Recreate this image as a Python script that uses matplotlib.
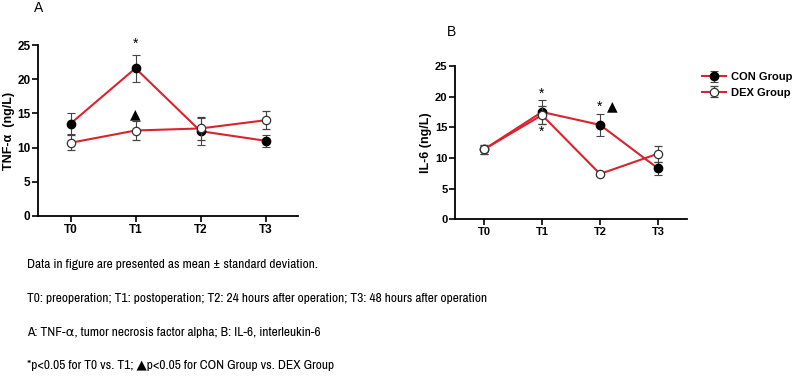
import matplotlib
matplotlib.use("Agg")
import matplotlib.pyplot as plt
from matplotlib import font_manager

# data
times = ["T0", "T1", "T2", "T3"]

tnf_con = [13.5, 21.6, 12.4, 11.0]
tnf_con_sd = [1.5, 2.0, 2.0, 0.9]
tnf_dex = [10.7, 12.5, 12.8, 14.0]
tnf_dex_sd = [1.1, 1.4, 1.7, 1.3]

il6_con = [11.4, 17.5, 15.4, 8.3]
il6_con_sd = [0.7, 1.9, 1.8, 1.0]
il6_dex = [11.4, 17.0, 7.4, 10.7]
il6_dex_sd = [0.7, 1.5, 0.3, 1.3]

notes = [
    "Data in figure are presented as mean \u00b1 standard deviation.",
    "T0: preoperation; T1: postoperation; T2: 24 hours after operation; T3: 48 hours after operation",
    "A: TNF-\u03b1, tumor necrosis factor alpha; B: IL-6, interleukin-6",
    "*p<0.05 for T0 vs. T1; \u25b2p<0.05 for CON Group vs. DEX Group",
]

RED = "#d9232e"

# look for a narrow sans face for the notes, the reference uses one
narrow = None
for f in font_manager.fontManager.ttflist:
    if "Narrow" in f.name or "Condensed" in f.name:
        narrow = f.name
        break
NOTE_FAMILY = [narrow, "DejaVu Sans"] if narrow else ["Liberation Sans", "DejaVu Sans"]

plt.rcParams["font.family"] = ["Liberation Sans", "DejaVu Sans"]

fig = plt.figure(figsize=(7.94, 3.91), dpi=100)
ax_a = fig.add_axes([38 / 794, 1 - 216 / 391, 260 / 794, 171 / 391])
ax_b = fig.add_axes([455 / 794, 1 - 219.3 / 391, 232 / 794, 153.3 / 391])


def draw(ax, con, con_sd, dex, dex_sd, size):
    x = list(range(len(times)))
    ax.errorbar(x, con, yerr=con_sd, color=RED, lw=1.5, ecolor="#444444",
                elinewidth=0.8, capsize=3, capthick=0.8, marker="o", ms=6,
                mfc="black", mec="black", zorder=3, label="CON Group")
    ax.errorbar(x, dex, yerr=dex_sd, color=RED, lw=1.5, ecolor="#444444",
                elinewidth=0.8, capsize=3, capthick=0.8, marker="o", ms=6,
                mfc="white", mec="#333333", mew=0.9, zorder=4, label="DEX Group")
    ax.set_xlim(-0.5, 3.5)
    ax.set_ylim(0, 25)
    ax.set_xticks(x)
    ax.set_xticklabels(times)
    ax.set_yticks([0, 5, 10, 15, 20, 25])
    for s in ["top", "right"]:
        ax.spines[s].set_visible(False)
    for s in ["left", "bottom"]:
        ax.spines[s].set_linewidth(1.3)
    ax.tick_params(direction="out", length=4, width=1.2, labelsize=size, pad=1.5)
    for lab in ax.get_xticklabels() + ax.get_yticklabels():
        lab.set_fontweight("bold")


draw(ax_a, tnf_con, tnf_con_sd, tnf_dex, tnf_dex_sd, 8.5)
draw(ax_b, il6_con, il6_con_sd, il6_dex, il6_dex_sd, 8)

ax_a.set_ylabel("TNF-\u03b1  (ng/L)", fontsize=9, fontweight="bold")
ax_a.yaxis.set_label_coords(-0.09, 0.5)
ax_b.set_ylabel("IL-6 (ng/L)", fontsize=9, fontweight="bold")
ax_b.yaxis.set_label_coords(-0.1, 0.5)

# significance marks
ax_a.text(1, 25.2, "*", ha="center", va="center", fontsize=10, clip_on=False)
ax_a.text(1, 14.8, "\u25b2", ha="center", va="center", fontsize=10,
          family=["DejaVu Sans"])
ax_b.text(1, 20.4, "*", ha="center", va="center", fontsize=10)
ax_b.text(1, 14.2, "*", ha="center", va="center", fontsize=10)
ax_b.text(2, 18.3, "*", ha="center", va="center", fontsize=10)
ax_b.text(2.22, 18.5, "\u25b2", ha="center", va="center", fontsize=10,
          family=["DejaVu Sans"])

fig.text(39 / 794, 1 - 8 / 391, "A", ha="center", va="center", fontsize=10)
fig.text(451 / 794, 1 - 32 / 391, "B", ha="center", va="center", fontsize=10)

handles, labels = ax_b.get_legend_handles_labels()
fig.legend(handles, labels, loc="upper left", bbox_to_anchor=(692 / 794, 1 - 62 / 391),
           frameon=False, prop={"weight": "bold", "size": 8},
           handlelength=2.2, handletextpad=0.4, labelspacing=0.5)

note_texts = []
for i, line in enumerate(notes):
    t = fig.text(27 / 794, 1 - (265 + i * 33.5) / 391, line, ha="left", va="center",
                 fontsize=9.5, family=NOTE_FAMILY)
    note_texts.append(t)

# the longest note spans about 448 px in the reference; size the notes to roughly that
fig.canvas.draw()
w = note_texts[1].get_window_extent().width
scale = 460 / w
for t in note_texts:
    t.set_fontsize(9.5 * scale)

fig.savefig("out.png", dpi=100)
